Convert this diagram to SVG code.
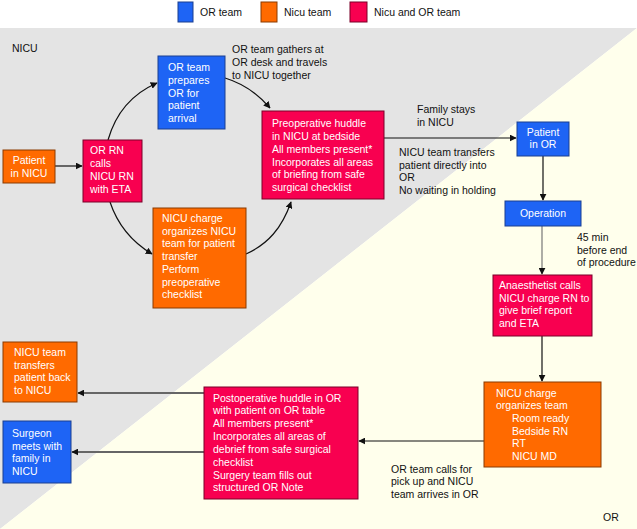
<svg xmlns="http://www.w3.org/2000/svg" width="637" height="529" viewBox="0 0 637 529">
<defs>
<style>
text{font-family:"Liberation Sans",Arial,sans-serif;}
.nt{fill:#ffffff;font-size:10.5px;}
.lb{fill:#111;font-size:10.5px;}
.blue{fill:#1e64f5;stroke:#1a3f8f;stroke-width:1;}
.orange{fill:#ff6a00;stroke:#8a3a00;stroke-width:1;}
.red{fill:#f80050;stroke:#7a0028;stroke-width:1;}
.ln{fill:none;stroke:#111;stroke-width:1.2;}
.lg{fill:none;stroke:#666;stroke-width:2;}
</style>
<marker id="ah" viewBox="0 0 10 10" refX="9" refY="5" markerWidth="7" markerHeight="7" markerUnits="userSpaceOnUse" orient="auto">
<path d="M0,0 L10,5 L0,10 z" fill="#111"/>
</marker>
</defs>
<rect x="0" y="0" width="637" height="529" fill="#ffffff"/>
<polygon points="0,28 637,28 0,529" fill="#e4e4e4"/>
<polygon points="637,28 637,529 0,529" fill="#ffffec"/>

<g id="legend">
<rect x="178" y="2" width="15" height="20" class="blue"/>
<text x="200" y="16" class="lb" font-size="11">OR team</text>
<rect x="261" y="2" width="16" height="20" class="orange"/>
<text x="284" y="16" class="lb" font-size="11">Nicu team</text>
<rect x="350" y="2" width="17" height="20" class="red"/>
<text x="374" y="16" class="lb" font-size="11">Nicu and OR team</text>
</g>

<text x="12" y="52" class="lb" font-size="14">NICU</text>
<text x="603" y="521" class="lb" font-size="14">OR</text>

<g id="connectors">
<path d="M55,166 L82,166" class="lg" marker-end="url(#ah)"/>
<path d="M108,140 C116,112 134,93 157,83" class="ln" marker-end="url(#ah)"/>
<path d="M225,78 C245,84 258,94 270,108" class="ln" marker-end="url(#ah)"/>
<path d="M110,202 C118,226 132,242 152,254" class="ln" marker-end="url(#ah)"/>
<path d="M246,254 C268,244 282,228 291,202" class="ln" marker-end="url(#ah)"/>
<path d="M384,138 L516,138" class="ln" marker-end="url(#ah)"/>
<path d="M543,156 L543,200" class="ln" marker-end="url(#ah)"/>
<path d="M542,226 L542,274" fill="none" stroke="#777" stroke-width="1.2" marker-end="url(#ah)"/>
<path d="M542,336 L542,381" class="ln" marker-end="url(#ah)"/>
<path d="M484,441 L359,441" class="ln" marker-end="url(#ah)"/>
<path d="M204,393 L78,393" class="lg" marker-end="url(#ah)"/>
<path d="M204,452 L72,452" class="lg" marker-end="url(#ah)"/>
</g>

<g id="labels">
<text class="lb"><tspan x="232" y="53">OR team gathers at</tspan><tspan x="232" y="66">OR desk and travels</tspan><tspan x="232" y="79">to NICU together</tspan></text>
<text class="lb"><tspan x="417" y="113">Family stays</tspan><tspan x="417" y="126">in NICU</tspan></text>
<text class="lb"><tspan x="399" y="156">NICU team transfers</tspan><tspan x="399" y="169">patient directly into</tspan><tspan x="399" y="181">OR</tspan><tspan x="399" y="194">No waiting in holding</tspan></text>
<text class="lb"><tspan x="577" y="241">45 min</tspan><tspan x="577" y="254">before end</tspan><tspan x="577" y="266">of procedure</tspan></text>
<text class="lb"><tspan x="391" y="473">OR team calls for</tspan><tspan x="391" y="485">pick up and NICU</tspan><tspan x="391" y="498">team arrives in OR</tspan></text>
</g>

<g id="patient-nicu">
<rect x="3" y="150" width="52" height="33" class="orange"/>
<text class="nt" text-anchor="middle"><tspan x="29" y="164">Patient</tspan><tspan x="29" y="177">in NICU</tspan></text>
</g>

<g id="or-rn-calls">
<rect x="83" y="140" width="59" height="62" class="red"/>
<text class="nt"><tspan x="90" y="154">OR RN</tspan><tspan x="90" y="167">calls</tspan><tspan x="90" y="180">NICU RN</tspan><tspan x="90" y="193">with ETA</tspan></text>
</g>

<g id="or-prepares">
<rect x="158" y="56" width="67" height="73" class="blue"/>
<text class="nt"><tspan x="168" y="71">OR team</tspan><tspan x="168" y="84">prepares</tspan><tspan x="168" y="97">OR for</tspan><tspan x="168" y="109">patient</tspan><tspan x="168" y="122">arrival</tspan></text>
</g>

<g id="nicu-charge-organizes">
<rect x="153" y="208" width="93" height="100" class="orange"/>
<text class="nt"><tspan x="162" y="222">NICU charge</tspan><tspan x="162" y="235">organizes NICU</tspan><tspan x="162" y="247">team for patient</tspan><tspan x="162" y="260">transfer</tspan><tspan x="162" y="273">Perform</tspan><tspan x="162" y="286">preoperative</tspan><tspan x="162" y="298">checklist</tspan></text>
</g>

<g id="preop-huddle">
<rect x="262" y="111" width="122" height="88" class="red"/>
<text class="nt"><tspan x="272" y="127">Preoperative huddle</tspan><tspan x="272" y="140">in NICU at bedside</tspan><tspan x="272" y="153">All members present*</tspan><tspan x="272" y="166">Incorporates all areas</tspan><tspan x="272" y="178">of briefing from safe</tspan><tspan x="272" y="191">surgical checklist</tspan></text>
</g>

<g id="patient-or">
<rect x="517" y="122" width="52" height="34" class="blue"/>
<text class="nt" text-anchor="middle"><tspan x="543" y="136">Patient</tspan><tspan x="543" y="148">in OR</tspan></text>
</g>

<g id="operation">
<rect x="505" y="201" width="76" height="25" class="blue"/>
<text class="nt" text-anchor="middle" x="543" y="217">Operation</text>
</g>

<g id="anaesthetist">
<rect x="493" y="275" width="99" height="61" class="red"/>
<text class="nt"><tspan x="499" y="289">Anaesthetist calls</tspan><tspan x="499" y="302">NICU charge RN to</tspan><tspan x="499" y="314">give brief report</tspan><tspan x="499" y="327">and ETA</tspan></text>
</g>

<g id="nicu-charge-team">
<rect x="484" y="382" width="117" height="85" class="orange"/>
<text class="nt"><tspan x="496" y="397">NICU charge</tspan><tspan x="496" y="409">organizes team</tspan><tspan x="512" y="422">Room ready</tspan><tspan x="512" y="435">Bedside RN</tspan><tspan x="512" y="447">RT</tspan><tspan x="512" y="460">NICU MD</tspan></text>
</g>

<g id="postop-huddle">
<rect x="204" y="387" width="154" height="112" class="red"/>
<text class="nt"><tspan x="213" y="402">Postoperative huddle in OR</tspan><tspan x="213" y="414">with patient on OR table</tspan><tspan x="213" y="427">All members present*</tspan><tspan x="213" y="440">Incorporates all areas of</tspan><tspan x="213" y="453">debrief from safe surgical</tspan><tspan x="213" y="466">checklist</tspan><tspan x="213" y="479">Surgery team fills out</tspan><tspan x="213" y="491">structured OR Note</tspan></text>
</g>

<g id="nicu-transfers-back">
<rect x="3" y="342" width="74" height="60" class="orange"/>
<text class="nt"><tspan x="14" y="356">NICU team</tspan><tspan x="14" y="369">transfers</tspan><tspan x="14" y="381">patient back</tspan><tspan x="14" y="394">to NICU</tspan></text>
</g>

<g id="surgeon-meets">
<rect x="3" y="421" width="68" height="62" class="blue"/>
<text class="nt"><tspan x="12" y="437">Surgeon</tspan><tspan x="12" y="450">meets with</tspan><tspan x="12" y="462">family in</tspan><tspan x="12" y="475">NICU</tspan></text>
</g>
</svg>
